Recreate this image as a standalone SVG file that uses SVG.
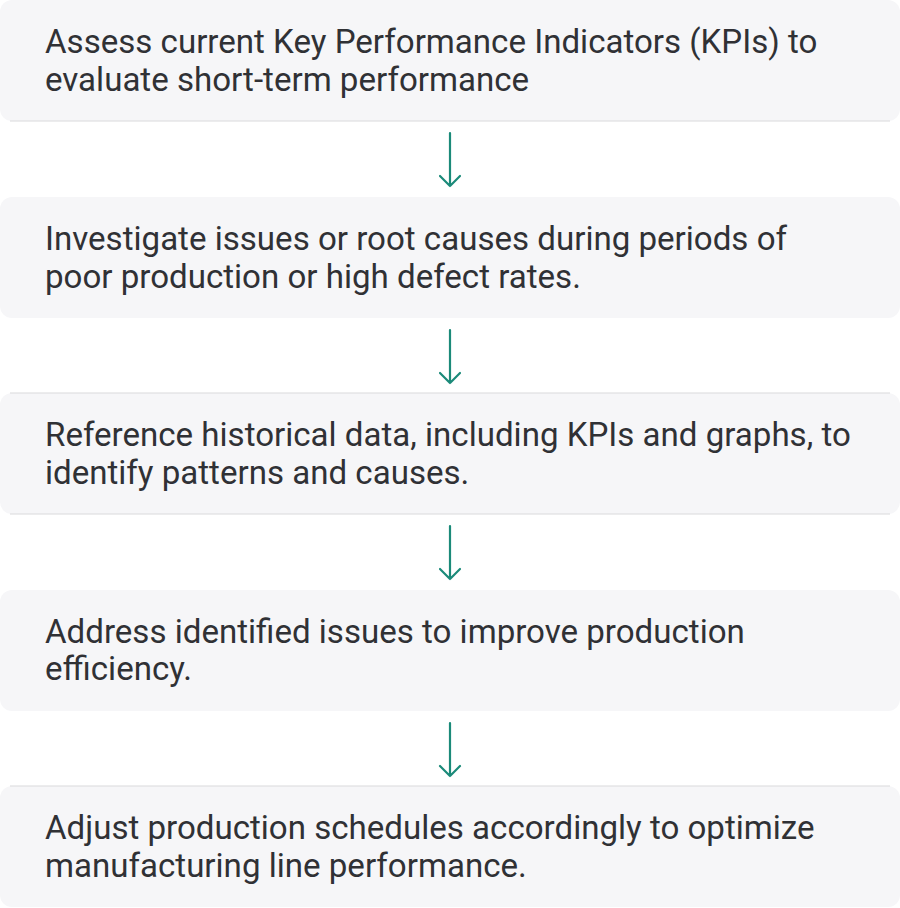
<svg xmlns="http://www.w3.org/2000/svg" width="900" height="908" viewBox="0 0 900 908">
<style>
.box{fill:#f6f6f8}
.edge{stroke:#d9d9dc;stroke-width:1.2;fill:none}
.t{font-family:Roboto,"Noto Sans",sans-serif;font-size:33.1px;fill:#303135}
.arr{stroke:#1b8a79;stroke-width:2.2;fill:none;stroke-linecap:round;stroke-linejoin:round}
</style>
<rect width="900" height="908" fill="#ffffff"/>
<g id="n1">
<rect class="box" x="0" y="0" width="900" height="121" rx="12"/>
<line class="edge" x1="10" y1="121" x2="890" y2="121"/>
<text class="t" x="45" y="53">Assess current Key Performance Indicators (KPIs) to</text>
<text class="t" x="45" y="90.5">evaluate short-term performance</text>
</g>
<g id="n2">
<rect class="box" x="0" y="197" width="900" height="121" rx="12"/>
<text class="t" x="45" y="250">Investigate issues or root causes during periods of</text>
<text class="t" x="45" y="287.5">poor production or high defect rates.</text>
</g>
<g id="n3">
<rect class="box" x="0" y="393" width="900" height="121" rx="12"/>
<line class="edge" x1="10" y1="393" x2="890" y2="393"/>
<line class="edge" x1="10" y1="514" x2="890" y2="514"/>
<text class="t" x="45" y="446">Reference historical data, including KPIs and graphs, to</text>
<text class="t" x="45" y="483.5">identify patterns and causes.</text>
</g>
<g id="n4">
<rect class="box" x="0" y="590" width="900" height="121" rx="12"/>
<text class="t" x="45" y="642.5">Address identified issues to improve production</text>
<text class="t" x="45" y="680">efficiency.</text>
</g>
<g id="n5">
<rect class="box" x="0" y="786" width="900" height="121" rx="12"/>
<line class="edge" x1="10" y1="786" x2="890" y2="786"/>
<text class="t" x="45" y="839">Adjust production schedules accordingly to optimize</text>
<text class="t" x="45" y="876.5">manufacturing line performance.</text>
</g>
<g id="connectors">
<path class="arr" d="M450 133V186M440 176L450 186L460 176"/>
<path class="arr" d="M450 330V383M440 373L450 383L460 373"/>
<path class="arr" d="M450 526V579M440 569L450 579L460 569"/>
<path class="arr" d="M450 723V776M440 766L450 776L460 766"/>
</g>
</svg>
